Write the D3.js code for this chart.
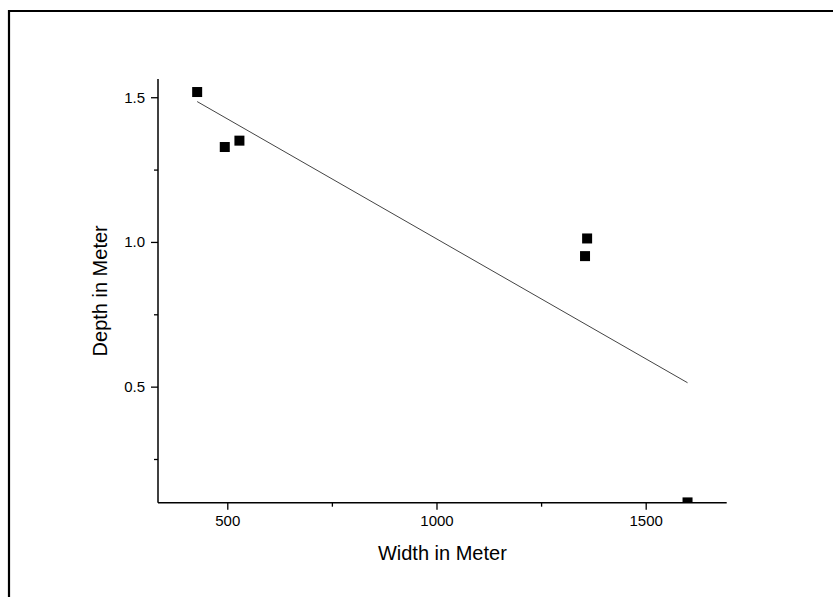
<!DOCTYPE html>
<html>
<head>
<meta charset="utf-8">
<script src="https://cdn.jsdelivr.net/npm/d3@7"></script>
<style>
  html, body { margin: 0; padding: 0; background: #fff; }
  svg { display: block; font-family: "Liberation Sans", Arial, sans-serif; }
</style>
</head>
<body>
<svg id="chart" width="833" height="597"></svg>
<script>
// Channel measurements: width vs. depth
const widths = [428, 494, 529, 1360, 1355, 1600];
const depths = [1.518, 1.328, 1.350, 1.012, 0.951, 0.100];

const xMajorTicks = [500, 1000, 1500];
const xMinorTicks = [750, 1250];
const yMajorTicks = [0.5, 1.0, 1.5];
const yMinorTicks = [0.25, 0.75, 1.25];

const xTitle = "Width in Meter";
const yTitle = "Depth in Meter";

const svg = d3.select("#chart");
const W = 833, H = 597;

// plot area
const plotL = 158, plotR = 726.7, plotT = 79, plotB = 502.7;

const x = d3.scaleLinear().domain([334.4, 1693.6]).range([plotL, plotR]);
const y = d3.scaleLinear().domain([0.099, 1.563]).range([plotB, plotT]);

// outer frame (left and top edges)
svg.append("path")
  .attr("d", `M9,${H} V11 H${W}`)
  .attr("fill", "none")
  .attr("stroke", "#000")
  .attr("stroke-width", 2.2);

// least-squares linear fit of depth on width
const mx = d3.mean(widths), my = d3.mean(depths);
let sxy = 0, sxx = 0;
widths.forEach((w, i) => { sxy += (w - mx) * (depths[i] - my); sxx += (w - mx) ** 2; });
const slope = sxy / sxx, intercept = my - slope * mx;
const fitX = d3.extent(widths);

svg.append("defs").append("clipPath").attr("id", "plotClip")
  .append("rect").attr("x", plotL).attr("y", plotT - 20)
  .attr("width", plotR - plotL + 10).attr("height", plotB - plotT + 20);

svg.append("line")
  .attr("x1", x(fitX[0])).attr("y1", y(intercept + slope * fitX[0]))
  .attr("x2", x(fitX[1])).attr("y2", y(intercept + slope * fitX[1]))
  .attr("stroke", "#444")
  .attr("stroke-width", 1);

// data points
const ms = 10;
svg.append("g").attr("clip-path", "url(#plotClip)")
  .selectAll("rect")
  .data(widths.map((w, i) => [w, depths[i]]))
  .join("rect")
  .attr("x", d => x(d[0]) - ms / 2)
  .attr("y", d => y(d[1]) - ms / 2)
  .attr("width", ms).attr("height", ms)
  .attr("fill", "#000");

// x axis
const gx = svg.append("g").attr("transform", `translate(0,${plotB})`);
gx.call(d3.axisBottom(x).tickValues(xMajorTicks).tickSize(7).tickPadding(6).tickFormat(d3.format("d")));
gx.append("g").call(d3.axisBottom(x).tickValues(xMinorTicks).tickSize(4).tickFormat(""))
  .select(".domain").remove();
gx.select(".domain").attr("d", `M${plotL},0H${plotR}`);

// y axis
const gy = svg.append("g").attr("transform", `translate(${plotL},0)`);
gy.call(d3.axisLeft(y).tickValues(yMajorTicks).tickSize(7).tickPadding(6).tickFormat(d3.format(".1f")));
gy.append("g").call(d3.axisLeft(y).tickValues(yMinorTicks).tickSize(4).tickFormat(""))
  .select(".domain").remove();
gy.select(".domain").attr("d", `M0,${plotT}V${plotB}`);

svg.selectAll(".domain").attr("stroke", "#000").attr("stroke-width", 1.5);
svg.selectAll(".tick line").attr("stroke", "#000").attr("stroke-width", 1.3);
svg.selectAll(".tick text")
  .attr("font-family", "Liberation Sans, Arial, sans-serif")
  .attr("font-size", 15).attr("fill", "#000");

// axis titles
svg.append("text")
  .attr("x", (plotL + plotR) / 2).attr("y", 560)
  .attr("text-anchor", "middle")
  .attr("font-size", 20).attr("fill", "#000")
  .text(xTitle);

svg.append("text")
  .attr("transform", `translate(107,${(plotT + plotB) / 2}) rotate(-90)`)
  .attr("text-anchor", "middle")
  .attr("font-size", 20).attr("fill", "#000")
  .text(yTitle);
</script>
</body>
</html>
